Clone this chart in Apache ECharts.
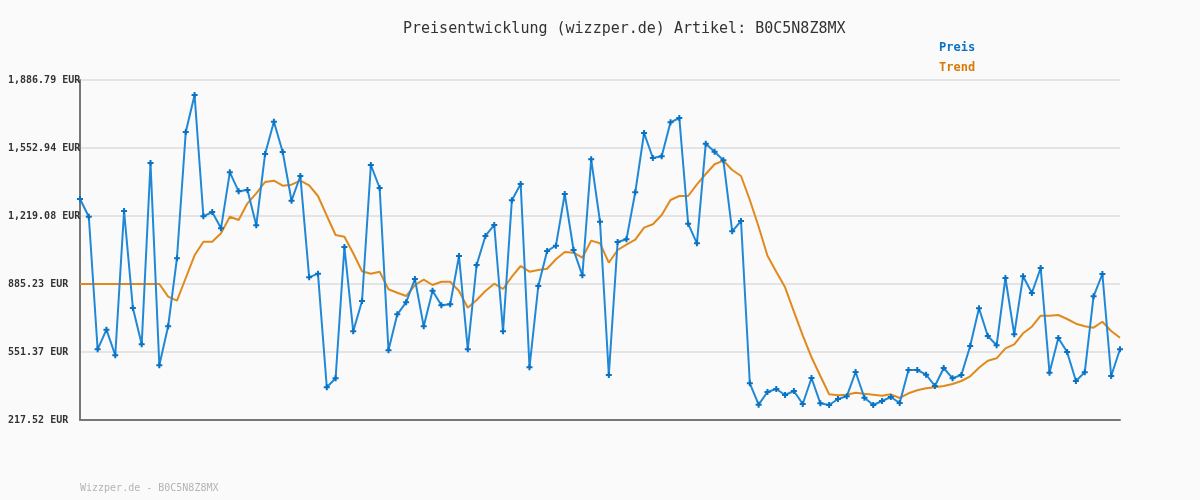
<!DOCTYPE html>
<html>
<head>
<meta charset="utf-8">
<script src="https://cdn.jsdelivr.net/npm/echarts@6/dist/echarts.min.js"></script>
<style>
html,body{margin:0;padding:0;background:#fafafa;}
#chart{width:1200px;height:500px;}
</style>
</head>
<body>
<div id="chart"></div>
<script>
const titleText = 'Preisentwicklung (wizzper.de) Artikel: B0C5N8Z8MX';
const footerText = 'Wizzper.de - B0C5N8Z8MX';
const seriesNames = ['Preis', 'Trend'];
const yMin = 217.52;
const yMax = 1886.79;
const yTickLabels = ['217.52 EUR', '551.37 EUR', '885.23 EUR', '1,219.08 EUR', '1,552.94 EUR', '1,886.79 EUR'];

const preis = [
  1302.5, 1215.6, 564.6, 660.9, 535.2, 1243.6, 767.4, 589.2, 1479.3, 486.0,
  677.5, 1011.4, 1631.5, 1813.1, 1217.6, 1238.7, 1158.6, 1433.6, 1340.3, 1346.7,
  1173.3, 1523.5, 1682.1, 1533.3, 1294.2, 1415.5, 918.1, 935.8, 378.1, 422.3,
  1066.9, 653.0, 801.8, 1469.5, 1356.5, 559.7, 736.5, 795.4, 909.8, 677.5,
  852.4, 780.6, 785.5, 1022.7, 564.6, 978.5, 1120.9, 1174.9, 653.0, 1296.2,
  1376.2, 476.3, 875.4, 1047.3, 1073.3, 1327.1, 1052.2, 927.9, 1497.5, 1191.1,
  438.5, 1091.4, 1104.6, 1335.4, 1626.6, 1503.8, 1512.1, 1679.1, 1700.2, 1181.3,
  1085.0, 1574.1, 1534.9, 1492.6, 1144.0, 1194.5, 397.7, 292.7, 355.0, 369.7,
  340.3, 359.9, 296.1, 423.7, 299.5, 291.2, 320.6, 333.9, 453.2, 327.0,
  291.2, 310.8, 330.4, 301.0, 463.0, 463.0, 440.0, 384.4, 472.8, 422.3,
  438.5, 580.8, 766.0, 629.9, 584.3, 914.7, 638.3, 923.0, 841.0, 963.8,
  449.8, 620.1, 551.4, 409.0, 451.7, 824.8, 934.3, 433.6, 564.6
];

const trend = [
  885.23, 885.23, 885.23, 885.23, 885.23, 885.23, 885.23, 885.23, 885.23, 885.23,
  823.0, 803.3, 914.7, 1026.1, 1093.0, 1093.0, 1134.0, 1215.6, 1199.4, 1281.4,
  1330.5, 1386.0, 1392.4, 1368.0, 1372.8, 1392.4, 1369.7, 1317.3, 1220.5, 1125.8,
  1117.5, 1036.0, 947.6, 935.8, 945.6, 859.2, 842.5, 826.3, 880.3, 906.3,
  880.3, 896.5, 896.5, 850.8, 768.9, 806.7, 850.8, 886.7, 860.7, 921.0,
  973.6, 945.6, 954.0, 960.3, 1006.5, 1042.3, 1039.0, 1014.4, 1098.0, 1085.0,
  989.8, 1052.2, 1078.3, 1102.9, 1161.9, 1178.3, 1224.0, 1297.6, 1317.3, 1317.3,
  1374.7, 1425.3, 1473.0, 1490.6, 1444.9, 1415.5, 1297.6, 1166.6, 1024.2, 945.6,
  869.0, 749.2, 633.4, 525.4, 433.6, 343.7, 338.8, 341.7, 351.6, 346.6,
  341.7, 336.8, 343.7, 325.5, 348.6, 363.3, 373.2, 378.1, 384.4, 394.3,
  409.0, 432.0, 474.3, 508.7, 520.3, 569.6, 589.2, 643.2, 675.6, 729.6,
  729.6, 733.0, 713.4, 690.3, 677.5, 670.7, 700.1, 654.5, 621.6
];

const categories = preis.map((_, i) => String(i + 1));

// Axis is drawn relative to yMin so ticks fall exactly on the labelled values
const yInterval = (yMax - yMin) / (yTickLabels.length - 1);
const rel = arr => arr.map(v => +(v - yMin).toFixed(4));

const mono = '"DejaVu Sans Mono", "Liberation Mono", monospace';
const plusPath = 'path://M2,0H4V2H6V4H4V6H2V4H0V2H2Z';

const chart = echarts.init(document.getElementById('chart'), null, {renderer: 'canvas'});
chart.setOption({
  backgroundColor: '#fafafa',
  animation: false,
  title: {
    text: titleText,
    left: 398,
    top: 17,
    textStyle: {fontFamily: mono, fontSize: 15, fontWeight: 'normal', color: '#333333'}
  },
  legend: {
    orient: 'vertical',
    left: 929,
    top: 36,
    itemWidth: 0,
    itemHeight: 0,
    itemGap: 6,
    selectedMode: false,
    data: [
      {name: seriesNames[0], icon: 'rect', textStyle: {color: '#0a72c2'}},
      {name: seriesNames[1], icon: 'rect', textStyle: {color: '#d97a06'}}
    ],
    textStyle: {fontFamily: mono, fontSize: 12, fontWeight: 'bold', lineHeight: 14}
  },
  graphic: [{
    type: 'text',
    left: 80,
    top: 483,
    style: {text: footerText, fontFamily: mono, fontSize: 10, fill: '#b4b4b4'}
  }],
  grid: {left: 80, right: 80, top: 80, bottom: 80, containLabel: false},
  xAxis: {
    type: 'category',
    data: categories,
    boundaryGap: false,
    axisLine: {show: true, lineStyle: {color: '#777777', width: 2}},
    axisTick: {show: false},
    axisLabel: {show: false},
    splitLine: {show: false}
  },
  yAxis: {
    type: 'value',
    min: 0,
    max: yMax - yMin,
    interval: yInterval,
    axisLine: {show: true, lineStyle: {color: '#777777', width: 2}},
    axisTick: {show: false},
    axisLabel: {
      show: true,
      align: 'left',
      margin: 72,
      fontFamily: mono,
      fontSize: 10,
      fontWeight: 'bold',
      color: '#333333',
      formatter: v => yTickLabels[Math.round(v / yInterval)] || ''
    },
    splitLine: {show: true, lineStyle: {color: '#e4e4e4', width: 2}}
  },
  series: [
    {
      name: seriesNames[0],
      type: 'line',
      data: rel(preis),
      symbol: plusPath,
      symbolSize: 6,
      showSymbol: true,
      showAllSymbol: true,
      itemStyle: {color: '#0a72c2'},
      lineStyle: {color: '#2088d6', width: 2},
      z: 3
    },
    {
      name: seriesNames[1],
      type: 'line',
      data: rel(trend),
      symbol: 'none',
      itemStyle: {color: '#d97a06'},
      lineStyle: {color: '#e08a1e', width: 2},
      z: 2
    }
  ]
});
</script>
</body>
</html>
